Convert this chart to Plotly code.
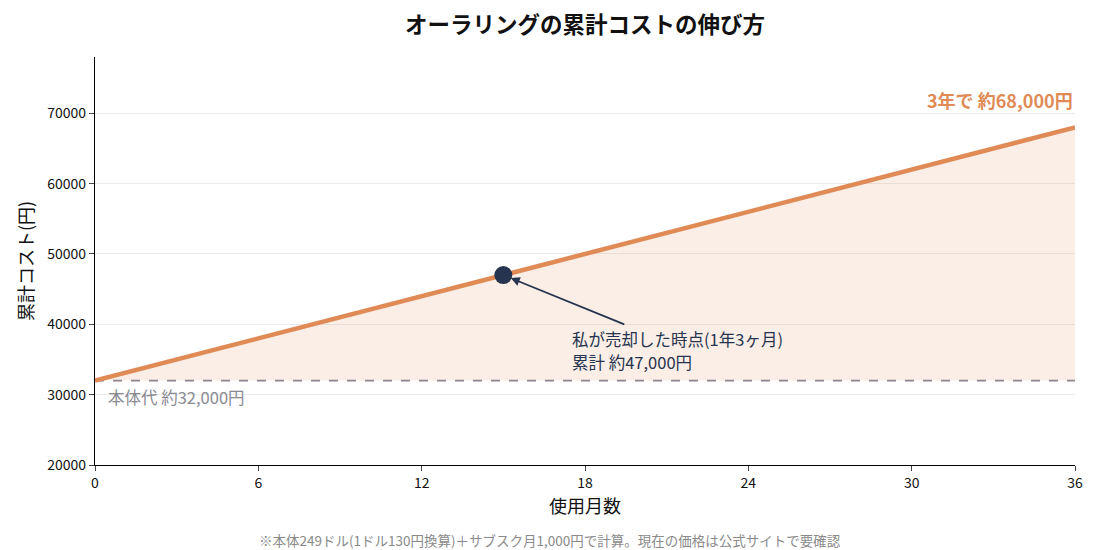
import plotly.graph_objects as go

months = [0, 36]
cost = [32000, 68000]
base_cost = [32000, 32000]
sold_month = [15]
sold_cost = [47000]
x_ticks = [0, 6, 12, 18, 24, 30, 36]
y_ticks = [20000, 30000, 40000, 50000, 60000, 70000]
y_tick_text = ["20000", "30000", "40000", "50000", "60000", "70000"]

ORANGE = "#E08A55"
NAVY = "#26344F"
GRAY = "#8A8A93"
FONT = "Noto Sans CJK JP"

fig = go.Figure()
fig.add_trace(go.Scatter(x=months, y=base_cost, mode="lines",
                         line=dict(color="#8E8590", width=1.6, dash="dash"),
                         hoverinfo="skip", showlegend=False))
fig.add_trace(go.Scatter(x=months, y=cost, mode="lines", fill="tonexty",
                         fillcolor="rgba(224,138,85,0.15)",
                         line=dict(color=ORANGE, width=4.5), showlegend=False))
fig.add_trace(go.Scatter(x=sold_month, y=sold_cost, mode="markers",
                         marker=dict(color=NAVY, size=18), showlegend=False))

fig.add_annotation(x=sold_month[0], y=sold_cost[0], ax=19.5, ay=39900,
                   axref="x", ayref="y", xref="x", yref="y", text="",
                   showarrow=True, arrowhead=2, arrowsize=1, arrowwidth=1.8,
                   arrowcolor=NAVY, standoff=8)
fig.add_annotation(x=17.5, y=37850, xref="x", yref="y",
                   text="私が売却した時点(1年3ヶ月)", borderpad=0,
                   showarrow=False, xanchor="left", yanchor="middle", align="left",
                   font=dict(family=FONT, size=16.5, color=NAVY))
fig.add_annotation(x=17.5, y=34600, xref="x", yref="y",
                   text="累計 約47,000円", borderpad=0,
                   showarrow=False, xanchor="left", yanchor="middle", align="left",
                   font=dict(family=FONT, size=16.5, color=NAVY))
fig.add_annotation(x=36, y=69700, xref="x", yref="y", text="<b>3年で 約68,000円</b>",
                   showarrow=False, xanchor="right", yanchor="bottom",
                   font=dict(family=FONT, size=18, color=ORANGE))
fig.add_annotation(x=0.4, y=31700, xref="x", yref="y", text="本体代 約32,000円",
                   showarrow=False, xanchor="left", yanchor="top",
                   font=dict(family=FONT, size=16.5, color=GRAY))
fig.add_annotation(x=0.464, y=-0.185, xref="paper", yref="paper",
                   text="※本体249ドル(1ドル130円換算)＋サブスク月1,000円で計算。現在の価格は公式サイトで要確認",
                   showarrow=False, xanchor="center", yanchor="middle",
                   font=dict(family=FONT, size=13.5, color="#8A8A8A"))

fig.update_layout(
    width=1100, height=550,
    margin=dict(l=95, r=25, t=57, b=85),
    paper_bgcolor="white", plot_bgcolor="white",
    font=dict(family=FONT, color="#111"),
    title=dict(text="<b>オーラリングの累計コストの伸び方</b>", x=0.5, xref="paper",
               xanchor="center", y=0.955, yanchor="middle",
               font=dict(family=FONT, size=22.5, color="#111")),
)
fig.update_xaxes(range=[0, 36], tickvals=x_ticks, ticks="outside", ticklen=5,
                 showline=True, linecolor="black", linewidth=1.2, showgrid=False,
                 zeroline=False, tickfont=dict(size=14, color="#111"),
                 title=dict(text="使用月数", font=dict(size=18), standoff=6))
fig.update_yaxes(range=[20000, 78000], tickvals=y_ticks, ticktext=y_tick_text,
                 ticks="outside", ticklen=5,
                 showline=True, linecolor="black", linewidth=1.2, showgrid=True,
                 gridcolor="#EBEBEB", zeroline=False, tickfont=dict(size=14, color="#111"),
                 title=dict(text="累計コスト(円)", font=dict(size=18), standoff=8))

fig.write_html("out.html")
